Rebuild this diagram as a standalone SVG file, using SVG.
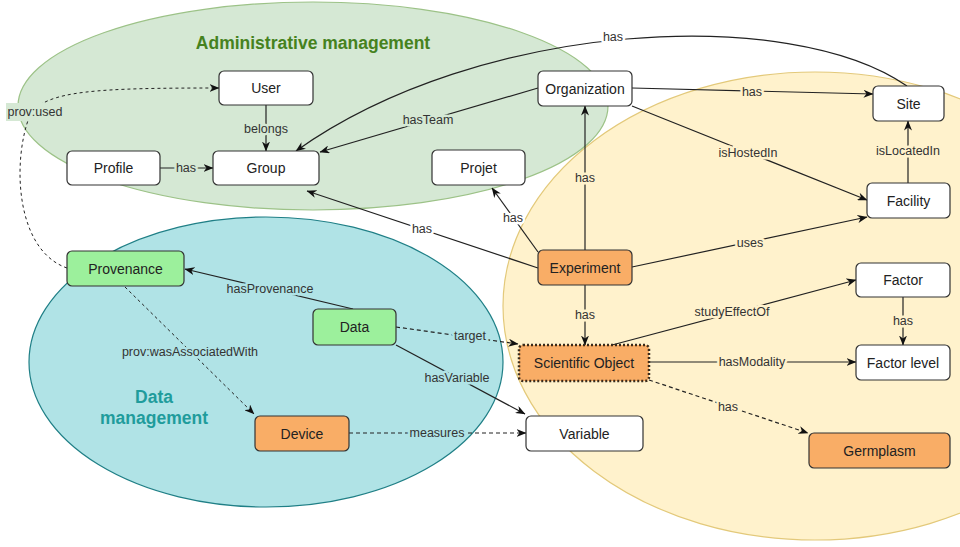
<svg xmlns="http://www.w3.org/2000/svg" width="960" height="547" viewBox="0 0 960 547">
  <defs>
    <marker id="arrow" viewBox="0 0 10 8" markerWidth="10" markerHeight="8" refX="9.5" refY="4" orient="auto" markerUnits="userSpaceOnUse">
      <path d="M0,0 L10,4 L0,8 L3,4 Z" fill="#111"/>
    </marker>
    <style>
      .zone { stroke-width: 1.2; }
      .node rect { stroke: #333; stroke-width: 1.2; }
      .plain { fill: #ffffff; }
      .orange { fill: #f9ad66; }
      .green { fill: #9cf09c; }
      .node text { font-family: "Liberation Sans", Arial, sans-serif; font-size: 14px; fill: #222; text-anchor: middle; }
      .edge { fill: none; stroke: #222; stroke-width: 1.2; }
      .dash { stroke-dasharray: 4 3; }
      .fine { stroke-dasharray: 3 3; stroke-width: 1; }
      .lbl { font-family: "Liberation Sans", Arial, sans-serif; font-size: 12.5px; fill: #333; text-anchor: middle; paint-order: stroke; stroke-width: 5; stroke-linejoin: round; }
      .w { stroke: #ffffff; }
      .g { stroke: #d5e8d4; }
      .y { stroke: #fff2cc; }
      .b { stroke: #b0e3e6; }
      .title { font-family: "Liberation Sans", Arial, sans-serif; font-weight: bold; font-size: 17.5px; text-anchor: middle; }
    </style>
  </defs>

  <!-- background zones -->
  <g id="zones">
    <ellipse id="zone-science" class="zone" cx="815" cy="306" rx="312" ry="234" fill="#fff2cc" stroke="#e3c97a"/>
    <ellipse id="zone-admin" class="zone" cx="313" cy="106" rx="295" ry="104" fill="#d5e8d4" stroke="#9cc287"/>
    <ellipse id="zone-data" class="zone" cx="266" cy="362" rx="237" ry="145" fill="#b0e3e6" stroke="#1f7f86"/>
    <text class="title" x="313" y="49" fill="#46821e">Administrative management</text>
    <text class="title" x="154" y="403" fill="#1f9c9c">Data</text>
    <text class="title" x="154" y="424" fill="#1f9c9c">management</text>
  </g>

  <!-- connectors -->
  <g id="connectors">
    <path class="edge" d="M907 86 C790 5, 480 20, 296 151" marker-end="url(#arrow)"/>
    <text class="lbl w" x="613" y="41">has</text>

    <path class="edge" d="M266 105 L266 151" marker-end="url(#arrow)"/>
    <text class="lbl g" x="266" y="133">belongs</text>

    <path class="edge" d="M160 168 L213 168" marker-end="url(#arrow)"/>
    <text class="lbl g" x="186" y="172">has</text>

    <path class="edge" d="M538 88 L320 152" marker-end="url(#arrow)"/>
    <text class="lbl g" x="428" y="124">hasTeam</text>

    <path class="edge" d="M632 88 L873 94" marker-end="url(#arrow)"/>
    <text class="lbl y" x="752" y="96">has</text>

    <path class="edge" d="M632 106 L867 200" marker-end="url(#arrow)"/>
    <text class="lbl y" x="748" y="157">isHostedIn</text>

    <path class="edge" d="M908 183 L908 121" marker-end="url(#arrow)"/>
    <text class="lbl y" x="908" y="155">isLocatedIn</text>

    <path class="edge" d="M585 250 L585 106" marker-end="url(#arrow)"/>
    <text class="lbl y" x="585" y="182">has</text>

    <path class="edge" d="M538 252 L492 188" marker-end="url(#arrow)"/>
    <text class="lbl w" x="513" y="222">has</text>

    <path class="edge" d="M538 268 L307 191" marker-end="url(#arrow)"/>
    <text class="lbl w" x="422" y="233">has</text>

    <path class="edge" d="M632 267 L867 217" marker-end="url(#arrow)"/>
    <text class="lbl y" x="750" y="247">uses</text>

    <path class="edge" d="M585 285 L585 345" marker-end="url(#arrow)"/>
    <text class="lbl y" x="585" y="319">has</text>

    <path class="edge" d="M612 345 L856 280" marker-end="url(#arrow)"/>
    <text class="lbl y" x="732" y="316">studyEffectOf</text>

    <path class="edge" d="M903 297 L903 345" marker-end="url(#arrow)"/>
    <text class="lbl y" x="903" y="325">has</text>

    <path class="edge" d="M649 362 L856 362" marker-end="url(#arrow)"/>
    <text class="lbl y" x="752" y="366">hasModality</text>

    <path class="edge dash" d="M649 380 L808 433" marker-end="url(#arrow)"/>
    <text class="lbl y" x="728" y="411">has</text>

    <path class="edge" d="M353 309 L185 269" marker-end="url(#arrow)"/>
    <text class="lbl b" x="270" y="293">hasProvenance</text>

    <path class="edge dash" d="M396 327 L518 344" marker-end="url(#arrow)"/>
    <text class="lbl b" x="470" y="340">target</text>

    <path class="edge" d="M396 345 L525 414" marker-end="url(#arrow)"/>
    <text class="lbl b" x="457" y="382">hasVariable</text>

    <path class="edge dash" d="M349 433 L526 433" marker-end="url(#arrow)"/>
    <text class="lbl b" x="437" y="437">measures</text>

    <path class="edge fine" d="M125 287 L254 414" marker-end="url(#arrow)"/>
    <text class="lbl b" x="190" y="356">prov:wasAssociatedWith</text>

    <path class="edge fine" d="M67 268 C15 250, 12 160, 30 115 C45 90, 100 88, 219 88" marker-end="url(#arrow)"/>
    <rect x="6" y="103" width="58" height="18" fill="#d5e8d4"/>
    <text class="lbl" x="35" y="116">prov:used</text>
  </g>

  <!-- nodes -->
  <g id="node-user" class="node"><rect class="plain" x="219" y="71" width="94" height="34" rx="5"/><text x="266" y="93">User</text></g>
  <g id="node-profile" class="node"><rect class="plain" x="67" y="151" width="93" height="34" rx="5"/><text x="113.5" y="173">Profile</text></g>
  <g id="node-group" class="node"><rect class="plain" x="213" y="151" width="106" height="34" rx="5"/><text x="266" y="173">Group</text></g>
  <g id="node-projet" class="node"><rect class="plain" x="432" y="150" width="93" height="35" rx="5"/><text x="478.5" y="172.5">Projet</text></g>
  <g id="node-organization" class="node"><rect class="plain" x="538" y="71" width="94" height="35" rx="5"/><text x="585" y="93.5">Organization</text></g>
  <g id="node-site" class="node"><rect class="plain" x="873" y="86" width="71" height="35" rx="5"/><text x="908.5" y="108.5">Site</text></g>
  <g id="node-facility" class="node"><rect class="plain" x="867" y="183" width="83" height="35" rx="5"/><text x="908.5" y="205.5">Facility</text></g>
  <g id="node-experiment" class="node"><rect class="orange" x="538" y="250" width="94" height="35" rx="5"/><text x="585" y="272.5">Experiment</text></g>
  <g id="node-factor" class="node"><rect class="plain" x="856" y="263" width="94" height="34" rx="5"/><text x="903" y="285">Factor</text></g>
  <g id="node-factor-level" class="node"><rect class="plain" x="856" y="345" width="94" height="35" rx="5"/><text x="903" y="367.5">Factor level</text></g>
  <g id="node-scientific-object" class="node"><rect class="orange" x="519" y="345" width="130" height="36" rx="4" style="stroke:#3a2a1a;stroke-width:2.5;stroke-dasharray:2 2"/><text x="584" y="368">Scientific Object</text></g>
  <g id="node-variable" class="node"><rect class="plain" x="526" y="416" width="117" height="35" rx="5"/><text x="584.5" y="438.5">Variable</text></g>
  <g id="node-germplasm" class="node"><rect class="orange" x="809" y="433" width="141" height="35" rx="5"/><text x="879.5" y="455.5">Germplasm</text></g>
  <g id="node-provenance" class="node"><rect class="green" x="67" y="251" width="117" height="35" rx="5"/><text x="125.5" y="273.5">Provenance</text></g>
  <g id="node-data" class="node"><rect class="green" x="313" y="309" width="83" height="36" rx="5"/><text x="354.5" y="332">Data</text></g>
  <g id="node-device" class="node"><rect class="orange" x="255" y="416" width="94" height="35" rx="5"/><text x="302" y="438.5">Device</text></g>
</svg>
